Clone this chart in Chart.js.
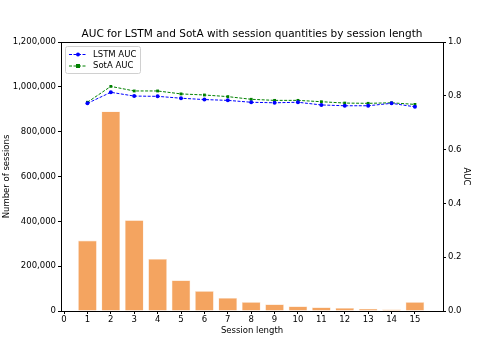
<!DOCTYPE html>
<html><head><meta charset="utf-8">
<script src="https://cdn.jsdelivr.net/npm/chart.js@4.4.1/dist/chart.umd.min.js"></script>
<style>html,body{margin:0;padding:0;background:#fff}#w{width:491px;height:350px}</style>
</head><body><div id="w"><canvas id="c" width="491" height="350"></canvas></div>
<script>
const sessionLengths = [1,2,3,4,5,6,7,8,9,10,11,12,13,14,15];
const sessionCounts = [314000,890000,405000,232000,137000,89000,58000,40000,30000,21000,16500,13400,10400,7400,40000];
const lstmAUC = [0.772,0.813,0.799,0.798,0.791,0.786,0.783,0.776,0.774,0.776,0.766,0.763,0.763,0.772,0.759];
const sotaAUC = [0.776,0.835,0.818,0.818,0.807,0.803,0.797,0.787,0.783,0.783,0.778,0.773,0.772,0.774,0.768];
const xTicks = [0,1,2,3,4,5,6,7,8,9,10,11,12,13,14,15];
const leftTicks = [0,200000,400000,600000,800000,1000000,1200000];
const rightTicks = [0,0.2,0.4,0.6,0.8,1.0];

const F = "'DejaVu Sans', sans-serif";
const pts = (xs, ys) => xs.map((x,i)=>({x:x,y:ys[i]}));

const framePlugin = {
  id:'frame',
  afterDatasetsDraw(chart){
    const {ctx, chartArea:a} = chart;
    ctx.save();
    ctx.strokeStyle='#000'; ctx.lineWidth=1;
    ctx.beginPath(); ctx.moveTo(a.left, a.top+0.5); ctx.lineTo(a.right, a.top+0.5); ctx.stroke();
    // legend
    const lx=65.5, ly=46.5, lw=75, lh=27;
    ctx.fillStyle='rgba(255,255,255,0.8)';
    ctx.strokeStyle='#d0d0d0';
    ctx.beginPath(); ctx.roundRect ? ctx.roundRect(lx,ly,lw,lh,2) : ctx.rect(lx,ly,lw,lh); ctx.fill(); ctx.stroke();
    const ds = chart.data.datasets.filter(d=>d.type==='line');
    ds.forEach((d,i)=>{
      const y = 54.5 + i*11.5;
      ctx.strokeStyle=d.borderColor; ctx.lineWidth=1; ctx.setLineDash([3,1.5]);
      ctx.beginPath(); ctx.moveTo(69,y); ctx.lineTo(87,y); ctx.stroke(); ctx.setLineDash([]);
      ctx.fillStyle=d.borderColor;
      if(d.pointStyle==='rect'){ ctx.fillRect(76,y-2,4,4); }
      else { ctx.beginPath(); ctx.arc(78,y,2,0,Math.PI*2); ctx.fill(); }
      ctx.fillStyle='#000'; ctx.font="8.5px "+F; ctx.textBaseline='middle'; ctx.textAlign='left';
      ctx.fillText(d.label, 93, y);
    });
    ctx.restore();
  }
};

new Chart(document.getElementById('c'), {
  type:'bar',
  data:{
    datasets:[
      {type:'line', label:'LSTM AUC', data:pts(sessionLengths,lstmAUC), yAxisID:'y1', xAxisID:'x',
       borderColor:'#0000ff', backgroundColor:'#0000ff', borderWidth:1, borderDash:[3,1.5],
       pointStyle:'circle', pointRadius:2, pointBorderWidth:0, order:0},
      {type:'line', label:'SotA AUC', data:pts(sessionLengths,sotaAUC), yAxisID:'y1', xAxisID:'x',
       borderColor:'#008000', backgroundColor:'#008000', borderWidth:1, borderDash:[3,1.5],
       pointStyle:'rect', pointRadius:2, pointBorderWidth:0, order:0},
      {type:'bar', label:'Number of sessions', data:pts(sessionLengths,sessionCounts), yAxisID:'y', xAxisID:'x',
       backgroundColor:'#F4A460', borderColor:'#fce4cf', borderWidth:0.6, borderSkipped:'bottom',
       categoryPercentage:1, barPercentage:0.8, order:1}
    ]
  },
  options:{
    responsive:false, animation:false,
    layout:{padding:{left:0,right:20,top:0,bottom:14}},
    plugins:{
      legend:{display:false},
      tooltip:{enabled:false},
      title:{display:true, fullSize:false, text:'AUC for LSTM and SotA with session quantities by session length',
        color:'#000', font:{family:F,size:10.5,weight:'normal'}, padding:{top:28,bottom:1.4}}
    },
    scales:{
      x:{type:'linear', position:'bottom', min:-0.13, max:16.2, offset:false,
        afterBuildTicks:s=>{s.ticks=xTicks.map(v=>({value:v}));},
        afterFit:s=>{s.height=25;},
        grid:{display:true, offset:false, drawOnChartArea:false, drawTicks:true, tickLength:3, color:'#000'},
        border:{display:true,color:'#000'},
        ticks:{color:'#000', font:{family:F,size:8.5}, padding:1, autoSkip:false, maxRotation:0, callback:v=>String(v)},
        title:{display:true,text:'Session length',color:'#000',font:{family:F,size:8.5},padding:{top:0,bottom:0}}},
      y:{type:'linear', position:'left', min:0, max:1200000,
        afterBuildTicks:s=>{s.ticks=leftTicks.map(v=>({value:v}));},
        afterFit:s=>{s.width=61;},
        grid:{display:true, drawOnChartArea:false, drawTicks:true, tickLength:3, color:'#000'},
        border:{display:true,color:'#000'},
        ticks:{color:'#000', font:{family:F,size:8.5}, padding:2, callback:v=>v.toLocaleString('en-US')},
        title:{display:true,text:'Number of sessions',color:'#000',font:{family:F,size:8.5},padding:{top:2,bottom:0}}},
      y1:{type:'linear', position:'right', min:0, max:1.0,
        afterBuildTicks:s=>{s.ticks=rightTicks.map(v=>({value:v}));},
        afterFit:s=>{s.width=28;},
        grid:{display:true, drawOnChartArea:false, drawTicks:true, tickLength:3, color:'#000'},
        border:{display:true,color:'#000'},
        ticks:{color:'#000', font:{family:F,size:8.5}, padding:2, callback:v=>v.toFixed(1)},
        title:{display:true,text:'AUC',color:'#000',font:{family:F,size:8.5},padding:{top:0,bottom:2}}}
    }
  },
  plugins:[framePlugin]
});
</script></body></html>
